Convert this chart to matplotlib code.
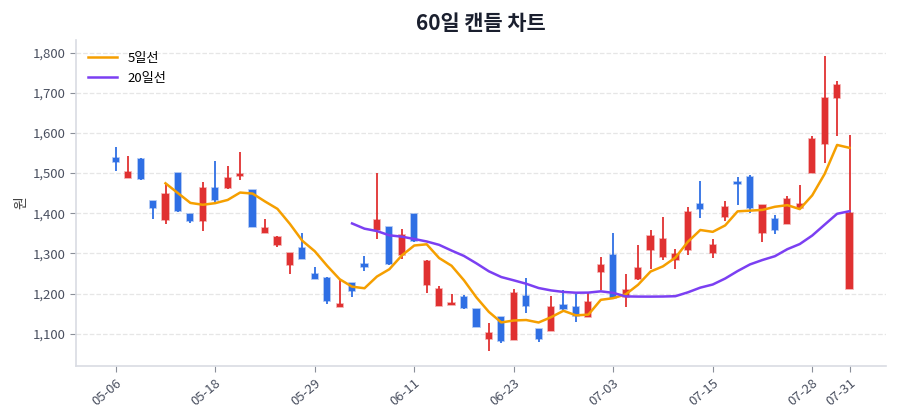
import numpy as np
import pandas as pd
import matplotlib
matplotlib.use('Agg')
import matplotlib.pyplot as plt
from matplotlib.colors import to_rgba
from matplotlib.ticker import FuncFormatter

plt.rcParams['font.family'] = ['Noto Sans CJK KR', 'DejaVu Sans']
plt.rcParams['axes.unicode_minus'] = False

# 60일 캔들 데이터
opens = [1538, 1489, 1535, 1430, 1383, 1500, 1398, 1382, 1464, 1463,
         1492, 1457, 1351, 1322, 1272, 1314, 1250, 1240, 1167, 1226,
         1273, 1358, 1365, 1295, 1398, 1222, 1170, 1172, 1191, 1162,
         1088, 1142, 1085, 1193, 1111, 1108, 1171, 1166, 1142, 1254,
         1295, 1192, 1236, 1309, 1292, 1283, 1308, 1422, 1302, 1391,
         1478, 1490, 1351, 1387, 1374, 1412, 1500, 1573, 1687, 1212]
highs = [1564, 1542, 1537, 1431, 1474, 1501, 1399, 1479, 1529, 1517,
         1553, 1458, 1386, 1343, 1301, 1352, 1266, 1241, 1234, 1227,
         1294, 1499, 1366, 1360, 1399, 1283, 1218, 1200, 1196, 1163,
         1127, 1143, 1211, 1240, 1112, 1195, 1208, 1200, 1201, 1290,
         1350, 1250, 1321, 1359, 1391, 1310, 1415, 1480, 1336, 1431,
         1491, 1496, 1421, 1395, 1443, 1471, 1592, 1791, 1730, 1595]
lows = [1506, 1487, 1482, 1386, 1374, 1404, 1375, 1356, 1427, 1461,
        1482, 1366, 1350, 1317, 1248, 1286, 1236, 1174, 1166, 1192,
        1257, 1336, 1272, 1287, 1328, 1202, 1169, 1171, 1163, 1117,
        1057, 1076, 1084, 1153, 1080, 1107, 1160, 1130, 1141, 1210,
        1188, 1167, 1235, 1261, 1283, 1261, 1295, 1388, 1289, 1382,
        1420, 1401, 1329, 1349, 1373, 1411, 1499, 1526, 1592, 1211]
closes = [1527, 1502, 1485, 1412, 1447, 1405, 1380, 1462, 1432, 1487,
          1497, 1367, 1364, 1340, 1300, 1287, 1237, 1182, 1174, 1207,
          1267, 1383, 1273, 1345, 1331, 1282, 1212, 1177, 1164, 1118,
          1102, 1081, 1201, 1170, 1087, 1168, 1161, 1144, 1179, 1271,
          1189, 1208, 1264, 1343, 1336, 1298, 1404, 1411, 1320, 1416,
          1473, 1413, 1420, 1359, 1436, 1424, 1584, 1687, 1719, 1400]

# x축 날짜 라벨
tick_idx = [0, 8, 16, 24, 32, 40, 48, 56, 59]
tick_labels = ['05-06', '05-18', '05-29', '06-11', '06-23',
               '07-03', '07-15', '07-28', '07-31']

df = pd.DataFrame({'open': opens, 'high': highs, 'low': lows, 'close': closes})
df['ma5'] = df['close'].rolling(5).mean()
df['ma20'] = df['close'].rolling(20).mean()
x = np.arange(len(df))

up_color = '#e03131'
down_color = '#2f6fe4'
colors = [up_color if c >= o else down_color for o, c in zip(df['open'], df['close'])]

fig = plt.figure(figsize=(9, 4.2), dpi=100)
ax = fig.add_axes([0.0844, 0.1286, 0.8996, 0.776])

# 꼬리
ax.vlines(x, df['low'], df['high'], colors=colors, linewidth=1.3, zorder=2)
# 몸통
bottoms = np.minimum(df['open'], df['close'])
heights = np.maximum(np.abs(df['close'] - df['open']), 3)
ax.bar(x, heights, bottom=bottoms, width=0.5, color=colors,
       edgecolor=[to_rgba(c, 0.45) for c in colors], linewidth=1.2, zorder=3)

# 이동평균선
ax.plot(x, df['ma5'], color='#f59f00', linewidth=1.8, label='5일선', zorder=4)
ax.plot(x, df['ma20'], color='#7b3ff2', linewidth=1.8, label='20일선', zorder=4)

ax.set_xlim(-3.2, 61.9)
ax.set_ylim(1020, 1831)
ax.set_yticks(range(1100, 1801, 100))
ax.yaxis.set_major_formatter(FuncFormatter(lambda v, p: f'{int(v):,}'))
ax.set_xticks(tick_idx)
ax.set_xticklabels(tick_labels, rotation=40, ha='right', rotation_mode='anchor')

ax.grid(axis='y', linestyle='--', color='#e6e6e6', linewidth=0.9)
ax.set_axisbelow(True)
for side in ['top', 'right']:
    ax.spines[side].set_visible(False)
for side in ['left', 'bottom']:
    ax.spines[side].set_color('#d9dce3')
    ax.spines[side].set_linewidth(1.2)
ax.tick_params(colors='#4a5060', labelsize=9.5, length=4)
ax.tick_params(axis='both', color='#8a8f99')

ax.set_ylabel('원', fontsize=10, color='#444', labelpad=3)
ax.set_title('60일 캔들 차트', fontsize=15, fontweight='bold', color='#1a1f2e', pad=7)
ax.legend(loc='upper left', frameon=False, fontsize=9.5, handlelength=2.2)

plt.savefig('out.png', dpi=100)
